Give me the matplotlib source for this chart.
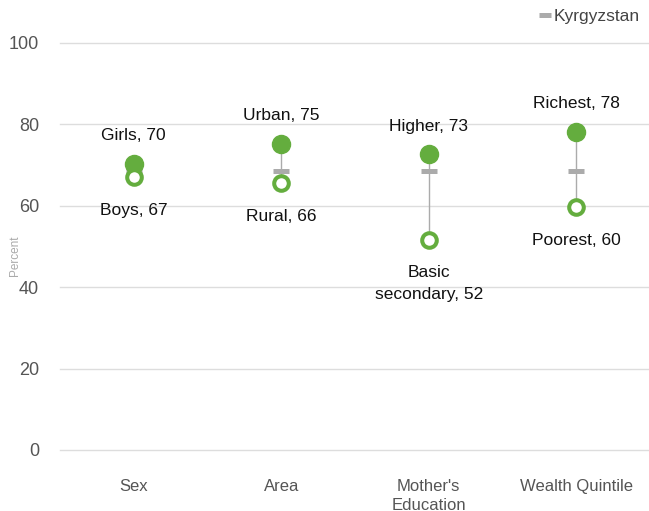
import matplotlib

matplotlib.use("Agg")
import matplotlib.pyplot as plt

plt.rcParams["font.family"] = ["Liberation Sans", "DejaVu Sans"]

categories = ["Sex", "Area", "Mother's\nEducation", "Wealth Quintile"]
high_labels = ["Girls", "Urban", "Higher", "Richest"]
high_values = [70.2, 75.3, 72.6, 78.2]
low_labels = ["Boys", "Rural", "Basic\nsecondary", "Poorest"]
low_values = [67.1, 65.6, 51.7, 59.6]
national_values = [68.6, 68.6, 68.6, 68.6]
national_name = "Kyrgyzstan"

GREEN = "#64AD3E"
GREY = "#ABABAB"

fig = plt.figure(figsize=(6.49, 5.11), dpi=100)
ax = fig.add_axes([0.0925, 0.1194, 0.909, 0.7965])

x = list(range(len(categories)))

for i in x:
    lo = min(high_values[i], low_values[i])
    hi = max(high_values[i], low_values[i])
    ax.plot([i, i], [lo, hi], color=GREY, lw=1.0, zorder=2, clip_on=False)

ax.plot(x, national_values, ls="none", marker="_", ms=12, mew=3.6,
        color=GREY, zorder=3, label=national_name, clip_on=False)
ax.plot(x, high_values, ls="none", marker="o", ms=13, color=GREEN,
        mec=GREEN, zorder=4, clip_on=False)
ax.plot(x, low_values, ls="none", marker="o", ms=10.5, mfc="white",
        mec=GREEN, mew=2.9, zorder=4, clip_on=False)

for i in x:
    ax.annotate(f"{high_labels[i]}, {round(high_values[i])}", (i, high_values[i]),
                xytext=(0, 15), textcoords="offset points", ha="center",
                va="bottom", fontsize=12.5, color="#111111")
    ax.annotate(f"{low_labels[i]}, {round(low_values[i])}", (i, low_values[i]),
                xytext=(0, -18.5), textcoords="offset points", ha="center",
                va="top", fontsize=12.5, color="#111111", linespacing=1.55)

ax.set_xlim(-0.5, 3.5)
ax.set_ylim(0, 100)
ax.set_yticks([0, 20, 40, 60, 80, 100])
ax.set_xticks(x)
ax.set_xticklabels(categories, fontsize=12, color="#555555", linespacing=1.3)
ax.tick_params(axis="y", labelsize=13, labelcolor="#555555", length=0, pad=15)
ax.tick_params(axis="x", length=0, pad=21)
ax.yaxis.grid(True, color="#DDDDDD", lw=1.0)
for gl in ax.get_ygridlines():
    gl.set_clip_on(False)
ax.set_axisbelow(True)
for s in ax.spines.values():
    s.set_visible(False)

fig.text(0.023, 0.50, "Percent", rotation=90, fontsize=8.5, color="#AAAAAA",
         ha="center", va="center")

ax.legend(loc="upper right", bbox_to_anchor=(0.995, 1.1), frameon=False,
          fontsize=12.5, handlelength=0.7, handletextpad=0.15, markerscale=0.7,
          labelcolor="#444444", borderaxespad=0)

fig.savefig("out.png", dpi=100)
